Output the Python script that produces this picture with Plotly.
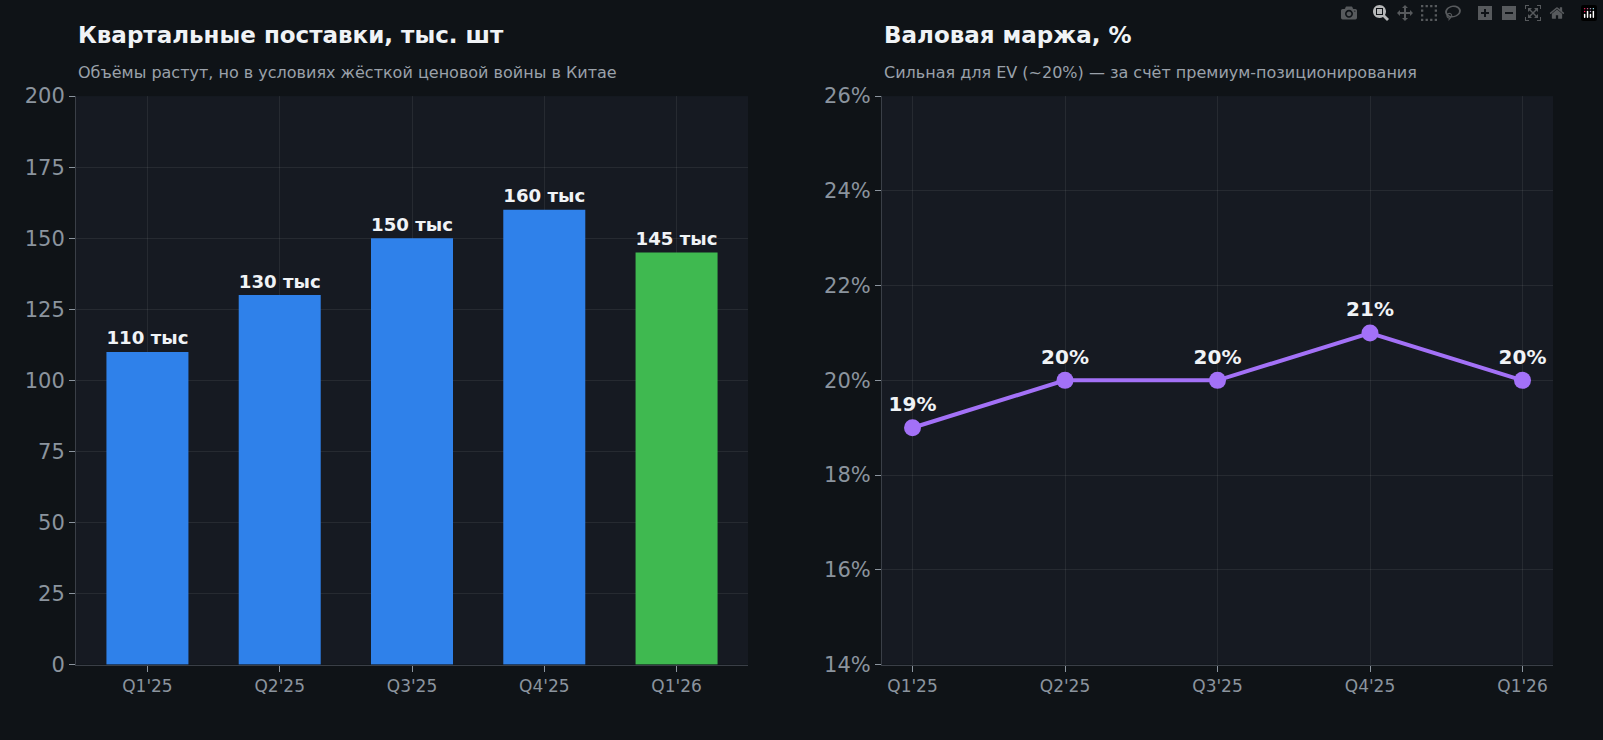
import plotly.graph_objects as go

quarters = ["Q1'25", "Q2'25", "Q3'25", "Q4'25", "Q1'26"]
shipments = [110, 130, 150, 160, 145]
shipment_labels = ["110 тыс", "130 тыс", "150 тыс", "160 тыс", "145 тыс"]
margin_pct = [19, 20, 20, 21, 20]
margin_labels = ["19%", "20%", "20%", "21%", "20%"]

bar_colors = ["#2f81ea"] * 4 + ["#3fb950"]
W, H = 1603, 724
FONT = "DejaVu Sans"

fig = go.Figure()
fig.add_trace(go.Bar(
    x=quarters, y=shipments, text=shipment_labels, textposition="outside",
    textfont=dict(color="#f0f3f6", size=20, family=FONT, weight="bold"),
    marker=dict(color=bar_colors, line=dict(width=0)), width=0.62,
    cliponaxis=False, xaxis="x", yaxis="y", showlegend=False,
))
fig.add_trace(go.Scatter(
    x=quarters, y=margin_pct, text=margin_labels, mode="lines+markers+text",
    textposition="top center",
    textfont=dict(color="#f0f3f6", size=20, family=FONT, weight="bold"),
    line=dict(color="#a371f7", width=4), marker=dict(size=17, color="#a371f7"),
    cliponaxis=False, xaxis="x2", yaxis="y2", showlegend=False,
))

grid = "rgba(255,255,255,0.07)"
ydom = [1 - 675 / H, 1 - 87 / H]
common = dict(showgrid=True, gridcolor=grid, zeroline=False, showline=True,
              linecolor="#3a3f47", ticks="outside", tickcolor="#8b949e", ticklen=6)

fig.update_layout(
    width=W, height=H, margin=dict(l=0, r=0, t=0, b=0),
    paper_bgcolor="#0f1317", plot_bgcolor="#161a22",
    font=dict(family=FONT, color="#8b949e"),
    xaxis=dict(domain=[76 / W, 748 / W], range=[-0.54, 4.54], anchor="y",
               tickfont=dict(size=17), **common),
    yaxis=dict(domain=ydom, range=[0, 200], dtick=25, anchor="x",
               tickfont=dict(size=21), **common),
    xaxis2=dict(domain=[882 / W, 1553 / W], range=[-0.2, 4.2], anchor="y2",
                tickfont=dict(size=17), **common),
    yaxis2=dict(domain=ydom, range=[14, 26], dtick=2, ticksuffix="%", anchor="x2",
                tickfont=dict(size=21), **common),
    annotations=[
        dict(text="<b>Квартальные поставки, тыс. шт</b>", x=76 / W, y=1 - 24 / H,
             xref="paper", yref="paper", xanchor="left", yanchor="middle",
             showarrow=False, font=dict(size=23, color="#f0f3f6")),
        dict(text="Объёмы растут, но в условиях жёсткой ценовой войны в Китае",
             x=76 / W, y=1 - 63 / H, xref="paper", yref="paper", xanchor="left",
             yanchor="middle", showarrow=False, font=dict(size=16, color="#9aa1aa")),
        dict(text="<b>Валовая маржа, %</b>", x=882 / W, y=1 - 24 / H,
             xref="paper", yref="paper", xanchor="left", yanchor="middle",
             showarrow=False, font=dict(size=23, color="#f0f3f6")),
        dict(text="Сильная для EV (~20%) — за счёт премиум-позиционирования",
             x=882 / W, y=1 - 63 / H, xref="paper", yref="paper", xanchor="left",
             yanchor="middle", showarrow=False, font=dict(size=16, color="#9aa1aa")),
    ],
)

fig.write_html(
    "out.html",
    post_script="document.body.style.margin='0';document.body.style.background='#0f1317';",
)
